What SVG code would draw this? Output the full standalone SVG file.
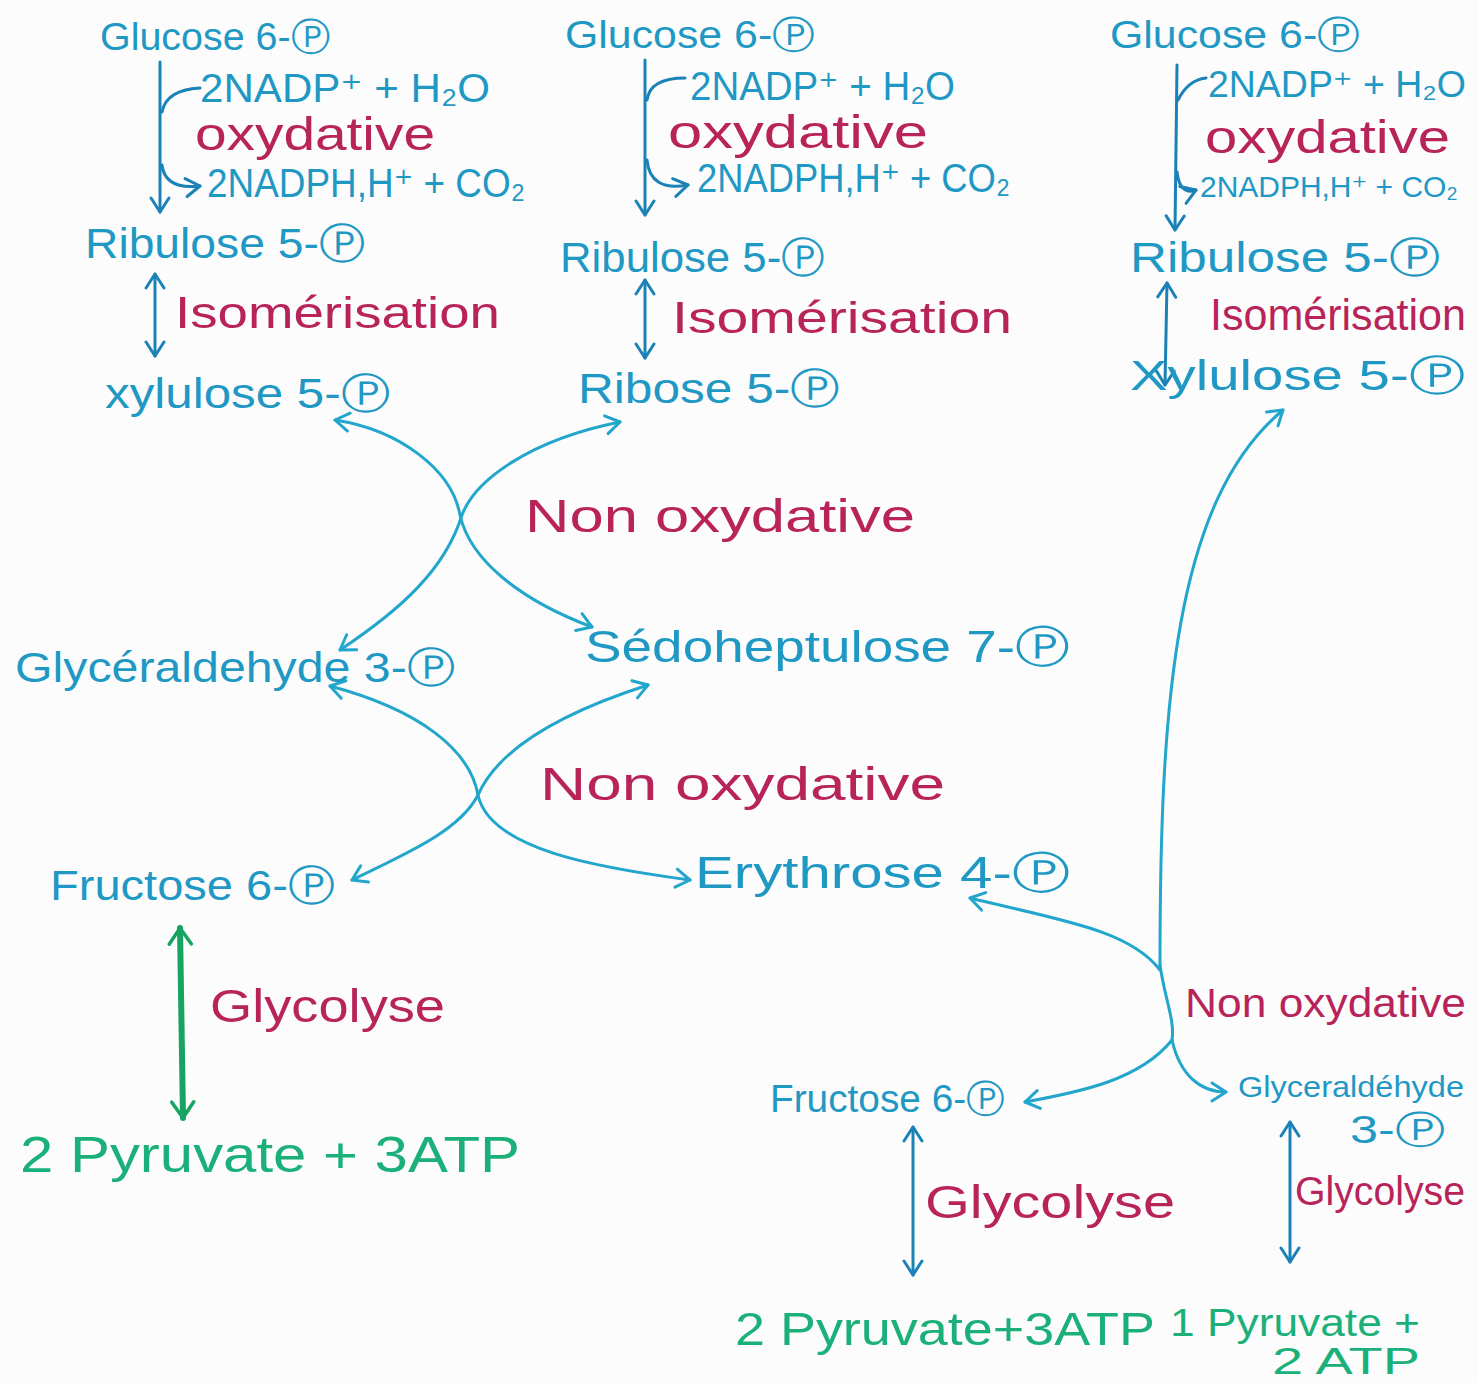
<svg xmlns="http://www.w3.org/2000/svg" width="1478" height="1383" viewBox="0 0 1478 1383">
<defs>
<style>
text{font-family:"Liberation Sans","DejaVu Sans",sans-serif}
.b{fill:#1f98c4;font-size:42px}
.s{fill:#1f98c4;font-size:40px}
.r{fill:#b8245a;font-size:44px}
.g{fill:#1bb07a;font-size:46px}
.ln{fill:none;stroke:#22a6cc;stroke-width:3;stroke-linecap:round}
.dk{stroke:#1b82b8}
.gr{fill:none;stroke:#17a463;stroke-width:6;stroke-linecap:round}
</style>
<marker id="ab" viewBox="-18 -12 20 24" refX="0" refY="0" markerWidth="20" markerHeight="24" markerUnits="userSpaceOnUse" orient="auto-start-reverse">
<path d="M-14,-9 L0,0 L-14,9" fill="none" stroke="#22a6cc" stroke-width="3" stroke-linecap="round" stroke-linejoin="round"/>
</marker>
<marker id="ad" viewBox="-18 -12 20 24" refX="0" refY="0" markerWidth="20" markerHeight="24" markerUnits="userSpaceOnUse" orient="auto-start-reverse">
<path d="M-14,-9 L0,0 L-14,9" fill="none" stroke="#1b82b8" stroke-width="3" stroke-linecap="round" stroke-linejoin="round"/>
</marker>
<marker id="ag" viewBox="-20 -14 22 28" refX="0" refY="0" markerWidth="22" markerHeight="28" markerUnits="userSpaceOnUse" orient="auto-start-reverse">
<path d="M-16,-11 L0,0 L-16,11" fill="none" stroke="#17a463" stroke-width="3.5" stroke-linecap="round" stroke-linejoin="round"/>
</marker>
</defs>
<rect width="1478" height="1383" fill="#fcfcfc"/>

<g id="connectors">
<!-- column 1 -->
<path class="ln dk" d="M160,62 L160,212" marker-end="url(#ad)"/>
<path class="ln dk" d="M162,112 Q166,90 200,88"/>
<path class="ln dk" d="M162,165 Q165,190 200,186" marker-end="url(#ad)"/>
<path class="ln dk" d="M155,274 L155,356" marker-start="url(#ad)" marker-end="url(#ad)"/>
<!-- column 2 -->
<path class="ln dk" d="M645,60 L645,215" marker-end="url(#ad)"/>
<path class="ln dk" d="M647,100 Q650,78 685,78"/>
<path class="ln dk" d="M647,160 Q650,192 688,185" marker-end="url(#ad)"/>
<path class="ln dk" d="M645,280 L645,358" marker-start="url(#ad)" marker-end="url(#ad)"/>
<!-- column 3 -->
<path class="ln dk" d="M1177,65 L1175,230" marker-end="url(#ad)"/>
<path class="ln dk" d="M1178,100 Q1188,80 1206,78"/>
<path class="ln dk" d="M1177,172 Q1180,196 1196,190" marker-end="url(#ad)"/>
<path class="ln dk" d="M1167,283 L1165,385" marker-start="url(#ad)" marker-end="url(#ad)"/>
<!-- first crossing -->
<path class="ln" d="M335,420 C400,430 452,470 460,515 C470,560 520,600 592,627" marker-start="url(#ab)" marker-end="url(#ab)"/>
<path class="ln" d="M620,422 C530,440 475,480 462,515 C445,570 400,610 340,650" marker-start="url(#ab)" marker-end="url(#ab)"/>
<!-- second crossing -->
<path class="ln" d="M330,686 C420,710 470,750 478,795 C490,850 600,868 690,880" marker-start="url(#ab)" marker-end="url(#ab)"/>
<path class="ln" d="M648,685 C570,710 500,745 478,795 C460,830 410,852 352,880" marker-start="url(#ab)" marker-end="url(#ab)"/>
<!-- right branch -->
<path class="ln" d="M1160,965 C1160,700 1175,500 1283,410" marker-end="url(#ab)"/>
<path class="ln" d="M1160,970 C1130,930 1060,920 970,898" marker-end="url(#ab)"/>
<path class="ln" d="M1160,965 C1165,1000 1175,1020 1172,1040"/>
<path class="ln" d="M1172,1040 C1140,1080 1080,1092 1025,1102" marker-end="url(#ab)"/>
<path class="ln" d="M1172,1040 C1180,1075 1200,1092 1226,1092" marker-end="url(#ab)"/>
<!-- glycolysis arrows -->
<path class="gr" d="M180,928 L183,1118" marker-start="url(#ag)" marker-end="url(#ag)"/>
<path class="ln dk" d="M913,1127 L913,1275" marker-start="url(#ad)" marker-end="url(#ad)"/>
<path class="ln dk" d="M1290,1122 L1290,1262" marker-start="url(#ad)" marker-end="url(#ad)"/>
</g>

<g id="col1">
<g id="g6p-1"><text class="b" x="100" y="50" textLength="230" lengthAdjust="spacingAndGlyphs" style="font-size:38px">Glucose 6-Ⓟ</text></g>
<g id="nadp-1"><text class="s" x="200" y="102" textLength="290" lengthAdjust="spacingAndGlyphs">2NADP⁺ + H₂O</text></g>
<g id="ox-1"><text class="r" x="195" y="150" textLength="240" lengthAdjust="spacingAndGlyphs" style="font-size:46px">oxydative</text></g>
<g id="nadph-1"><text class="s" x="207" y="197" textLength="318" lengthAdjust="spacingAndGlyphs">2NADPH,H⁺ + CO₂</text></g>
<g id="ru5p-1"><text class="b" x="85" y="258" textLength="280" lengthAdjust="spacingAndGlyphs">Ribulose 5-Ⓟ</text></g>
<g id="iso-1"><text class="r" x="175" y="328" textLength="325" lengthAdjust="spacingAndGlyphs">Isomérisation</text></g>
<g id="xu5p-1"><text class="b" x="105" y="408" textLength="285" lengthAdjust="spacingAndGlyphs">xylulose 5-Ⓟ</text></g>
</g>

<g id="col2">
<g id="g6p-2"><text class="b" x="565" y="48" textLength="250" lengthAdjust="spacingAndGlyphs" style="font-size:38px">Glucose 6-Ⓟ</text></g>
<g id="nadp-2"><text class="s" x="690" y="100" textLength="265" lengthAdjust="spacingAndGlyphs">2NADP⁺ + H₂O</text></g>
<g id="ox-2"><text class="r" x="668" y="148" textLength="260" lengthAdjust="spacingAndGlyphs" style="font-size:46px">oxydative</text></g>
<g id="nadph-2"><text class="s" x="697" y="192" textLength="313" lengthAdjust="spacingAndGlyphs">2NADPH,H⁺ + CO₂</text></g>
<g id="ru5p-2"><text class="b" x="560" y="272" textLength="265" lengthAdjust="spacingAndGlyphs">Ribulose 5-Ⓟ</text></g>
<g id="iso-2"><text class="r" x="672" y="333" textLength="340" lengthAdjust="spacingAndGlyphs">Isomérisation</text></g>
<g id="r5p"><text class="b" x="578" y="403" textLength="262" lengthAdjust="spacingAndGlyphs">Ribose 5-Ⓟ</text></g>
</g>

<g id="col3">
<g id="g6p-3"><text class="b" x="1110" y="48" textLength="250" lengthAdjust="spacingAndGlyphs" style="font-size:38px">Glucose 6-Ⓟ</text></g>
<g id="nadp-3"><text class="s" x="1208" y="97" textLength="258" lengthAdjust="spacingAndGlyphs" style="font-size:36px">2NADP⁺ + H₂O</text></g>
<g id="ox-3"><text class="r" x="1205" y="153" textLength="245" lengthAdjust="spacingAndGlyphs" style="font-size:46px">oxydative</text></g>
<g id="nadph-3"><text class="s" x="1200" y="197" textLength="258" lengthAdjust="spacingAndGlyphs" style="font-size:30px">2NADPH,H⁺ + CO₂</text></g>
<g id="ru5p-3"><text class="b" x="1130" y="272" textLength="310" lengthAdjust="spacingAndGlyphs">Ribulose 5-Ⓟ</text></g>
<g id="iso-3"><text class="r" x="1210" y="330" textLength="256" lengthAdjust="spacingAndGlyphs">Isomérisation</text></g>
<g id="xu5p-3"><text class="b" x="1130" y="390" textLength="335" lengthAdjust="spacingAndGlyphs">Xylulose 5-Ⓟ</text></g>
</g>

<g id="middle">
<g id="nonox-1"><text class="r" x="525" y="532" textLength="390" lengthAdjust="spacingAndGlyphs" style="font-size:46px">Non oxydative</text></g>
<g id="gap-1"><text class="b" x="15" y="682" textLength="440" lengthAdjust="spacingAndGlyphs">Glycéraldehyde 3-Ⓟ</text></g>
<g id="s7p"><text class="b" x="585" y="662" textLength="485" lengthAdjust="spacingAndGlyphs" style="font-size:44px">Sédoheptulose 7-Ⓟ</text></g>
<g id="nonox-2"><text class="r" x="540" y="800" textLength="405" lengthAdjust="spacingAndGlyphs" style="font-size:46px">Non oxydative</text></g>
<g id="f6p-1"><text class="b" x="50" y="900" textLength="285" lengthAdjust="spacingAndGlyphs">Fructose 6-Ⓟ</text></g>
<g id="e4p"><text class="b" x="695" y="888" textLength="375" lengthAdjust="spacingAndGlyphs" style="font-size:44px">Erythrose 4-Ⓟ</text></g>
<g id="glyco-1"><text class="r" x="210" y="1022" textLength="235" lengthAdjust="spacingAndGlyphs" style="font-size:46px">Glycolyse</text></g>
<g id="pyr-1"><text class="g" x="20" y="1172" textLength="500" lengthAdjust="spacingAndGlyphs" style="font-size:50px">2 Pyruvate + 3ATP</text></g>
</g>

<g id="right">
<g id="nonox-3"><text class="r" x="1185" y="1017" textLength="281" lengthAdjust="spacingAndGlyphs" style="font-size:40px">Non oxydative</text></g>
<g id="f6p-2"><text class="b" x="770" y="1112" textLength="235" lengthAdjust="spacingAndGlyphs" style="font-size:38px">Fructose 6-Ⓟ</text></g>
<g id="gap-2"><text class="b" x="1238" y="1097" textLength="226" lengthAdjust="spacingAndGlyphs" style="font-size:30px">Glyceraldéhyde</text><text class="b" x="1350" y="1143" textLength="95" lengthAdjust="spacingAndGlyphs" style="font-size:38px">3-Ⓟ</text></g>
<g id="glyco-2"><text class="r" x="925" y="1218" textLength="250" lengthAdjust="spacingAndGlyphs" style="font-size:46px">Glycolyse</text></g>
<g id="glyco-3"><text class="r" x="1295" y="1205" textLength="170" lengthAdjust="spacingAndGlyphs" style="font-size:40px">Glycolyse</text></g>
<g id="pyr-2"><text class="g" x="735" y="1345" textLength="420" lengthAdjust="spacingAndGlyphs">2 Pyruvate+3ATP</text></g>
<g id="pyr-3"><text class="g" x="1170" y="1336" textLength="250" lengthAdjust="spacingAndGlyphs" style="font-size:38px">1 Pyruvate +</text><text class="g" x="1272" y="1374" textLength="148" lengthAdjust="spacingAndGlyphs" style="font-size:36px">2 ATP</text></g>
</g>
</svg>
